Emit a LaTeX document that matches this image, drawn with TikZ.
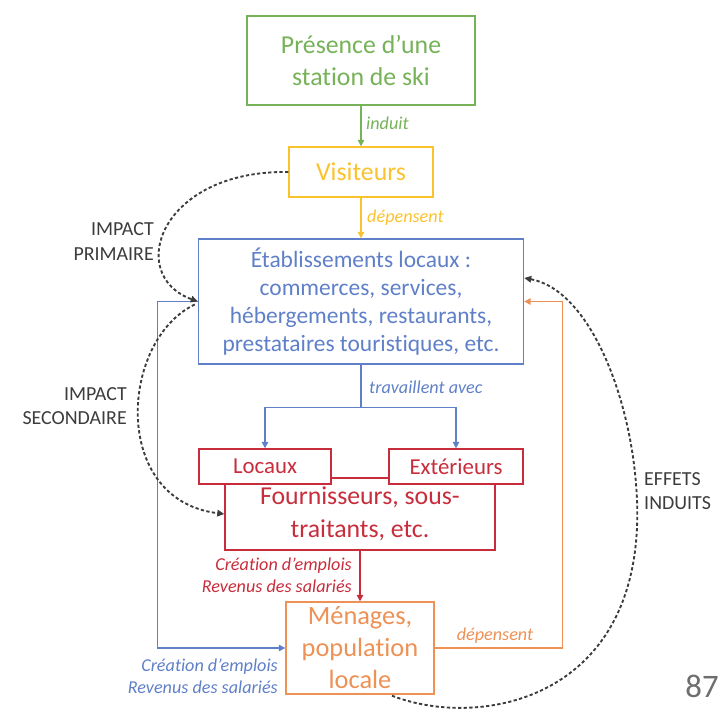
\documentclass[tikz,border=0pt]{standalone}
\usepackage{fontspec}
\setmainfont{Carlito}[Ligatures={NoCommon}]
\usetikzlibrary{arrows.meta,calc}
\definecolor{cgreen}{RGB}{118,178,88}
\definecolor{cyellow}{RGB}{250,195,45}
\definecolor{cblue}{RGB}{95,128,200}
\definecolor{cred}{RGB}{200,45,60}
\definecolor{corange}{RGB}{238,145,85}
\definecolor{cdark}{RGB}{60,60,60}
\definecolor{cpage}{RGB}{110,110,110}
\tikzset{
  box/.style={draw, line width=1.2pt, fill=white, inner sep=0pt, align=center},
  conn/.style={line width=1.2pt, -{Triangle[length=5.5pt,width=5.5pt]}},
  impact/.style={cdark, line width=1.6pt, dash pattern=on 2.8pt off 2pt, -{Triangle[length=6pt,width=5.5pt]}},
  lab/.style={font=\fontsize{15.5}{18.8}\selectfont\itshape, inner sep=0pt},
  side/.style={cdark, font=\fontsize{17}{21}\selectfont, inner sep=0pt},
}
\begin{document}
\begin{tikzpicture}[x=0.03cm,y=-0.03cm]
\useasboundingbox (0,0) rectangle (724,711);

% boxes
\node[box, draw=cgreen, text=cgreen, minimum width=6.84cm, minimum height=2.67cm,
      font=\fontsize{22}{26.5}\selectfont] (pres) at (361,60.5) {Présence d’une\\station de ski};
\node[box, draw=cyellow, text=cyellow, minimum width=4.32cm, minimum height=1.5cm,
      font=\fontsize{22}{26}\selectfont] (vis) at (361,172) {Visiteurs};
\node[box, draw=cblue, text=cblue, minimum width=9.75cm, minimum height=3.75cm,
      font=\fontsize{20}{23.9}\selectfont] (etab) at (361,301.5)
      {Établissements locaux :\\commerces, services,\\hébergements, restaurants,\\prestataires touristiques, etc.};
\node[box, draw=cred, text=cred, minimum width=8.1cm, minimum height=2.16cm,
      font=\fontsize{22}{28}\selectfont] (four) at (360,514) {Fournisseurs, sous-\\traitants, etc.};
\node[box, draw=cred, text=cred, minimum width=3.96cm, minimum height=1.05cm,
      font=\fontsize{19.5}{22}\selectfont] (loc) at (265,466.5) {Locaux};
\node[box, draw=cred, text=cred, minimum width=4.02cm, minimum height=1.05cm,
      font=\fontsize{19.5}{22}\selectfont] (ext) at (456,466.5) {Extérieurs};
\node[box, draw=corange, text=corange, minimum width=4.44cm, minimum height=2.76cm,
      font=\fontsize{22.5}{27.3}\selectfont] (men) at (360,648) {Ménages,\\population\\locale};

% straight connectors
\draw[cgreen, conn] (pres.south) -- (vis.north);
\draw[cyellow, conn] (vis.south) -- (etab.north);
\draw[cblue, conn] (etab.south) -- ++(0,43) -| (loc.north);
\draw[cblue, conn] (etab.south) -- ++(0,43) -| (ext.north);
\draw[cred, conn] (four.south) -- (men.north);
\draw[cblue, conn] (etab.west) -- ++(-40,0) |- (men.west);
\draw[corange, conn] (men.east) -- ++(128,0) |- (etab.east);

% connector labels
\node[lab, text=cgreen, anchor=west] (linduit) at (366,123) {induit};
\node[lab, text=cyellow, anchor=west] (ldep1) at (367,218) {dépensent};
\node[lab, text=cblue, anchor=west] (ltrav) at (369,387) {travaillent avec};
\node[lab, text=cred, anchor=east, align=right] (lrev1) at (352,575) {Création d’emplois\\Revenus des salariés};
\node[lab, text=cblue, anchor=east, align=right] (lrev2) at (278,676.5) {Création d’emplois\\Revenus des salariés};
\node[lab, text=corange] (ldep2) at (495,636) {dépensent};

% dashed impact arrows
\draw[impact] (vis.west) .. controls (160,170) and (125,275) .. (etab.west);
\draw[impact] ($(etab.west)+(-3,3)$) .. controls (120,340) and (110,500) .. (four.west);
\coordinate (mid) at (637,500);
\draw[impact] ($(men.south)+(32,1)$) .. controls (480,730) and (645,700) .. (mid)
      .. controls (633,400) and (590,290) .. ($(etab.east)+(0,-23.5)$);

% side labels
\node[side, anchor=east, align=right] (limp1) at (154,241.5) {IMPACT\\PRIMAIRE};
\node[side, anchor=east, align=right] (limp2) at (127,406) {IMPACT\\SECONDAIRE};
\node[side, anchor=west, align=left] (lind) at (644,491) {EFFETS\\INDUITS};
\node[text=cpage, font=\fontsize{28}{30}\selectfont, inner sep=0pt] (page) at (702,686) {87};
\end{tikzpicture}
\end{document}
